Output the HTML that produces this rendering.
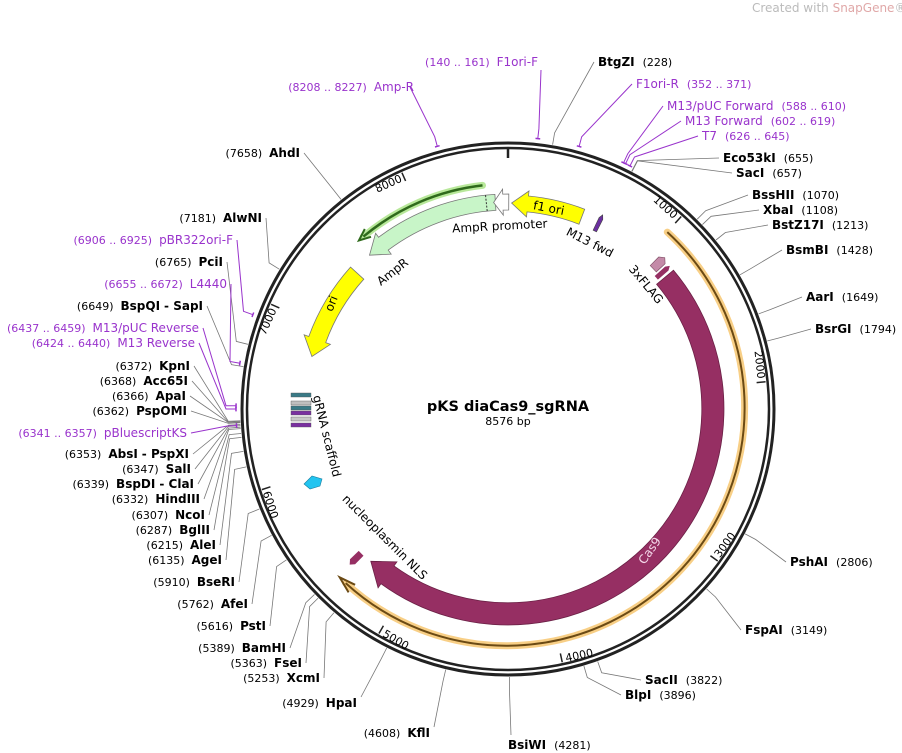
<!DOCTYPE html>
<html><head><meta charset="utf-8"><style>
html,body{margin:0;padding:0;background:#fff;}
svg{display:block;font-family:"DejaVu Sans","Liberation Sans",sans-serif;}
.n{font-weight:bold;font-size:12px;fill:#000}
.p{font-size:11px;fill:#000}
.pu{font-size:12px;fill:#9933cc}
.pp{font-size:11px;fill:#9933cc}
.f{font-size:12px;fill:#000}
</style></head><body>
<svg id="s" width="902" height="753" viewBox="0 0 902 753" xmlns="http://www.w3.org/2000/svg">
<text x="752" y="12" font-size="12" fill="#bbbbbb">Created with <tspan fill="#e0a8a8">SnapGene</tspan>®</text>
<g id="geo"></g>
<g id="lbl">
<text x="598" y="66"><tspan class="n">BtgZI</tspan><tspan class="p" dx="8">(228)</tspan></text>
<text x="723" y="162"><tspan class="n">Eco53kI</tspan><tspan class="p" dx="8">(655)</tspan></text>
<text x="736" y="177"><tspan class="n">SacI</tspan><tspan class="p" dx="8">(657)</tspan></text>
<text x="752" y="199"><tspan class="n">BssHII</tspan><tspan class="p" dx="8">(1070)</tspan></text>
<text x="763" y="214"><tspan class="n">XbaI</tspan><tspan class="p" dx="8">(1108)</tspan></text>
<text x="772" y="229"><tspan class="n">BstZ17I</tspan><tspan class="p" dx="8">(1213)</tspan></text>
<text x="786" y="254"><tspan class="n">BsmBI</tspan><tspan class="p" dx="8">(1428)</tspan></text>
<text x="806" y="301"><tspan class="n">AarI</tspan><tspan class="p" dx="8">(1649)</tspan></text>
<text x="815" y="333"><tspan class="n">BsrGI</tspan><tspan class="p" dx="8">(1794)</tspan></text>
<text x="790" y="566"><tspan class="n">PshAI</tspan><tspan class="p" dx="8">(2806)</tspan></text>
<text x="745" y="634"><tspan class="n">FspAI</tspan><tspan class="p" dx="8">(3149)</tspan></text>
<text x="645" y="684"><tspan class="n">SacII</tspan><tspan class="p" dx="8">(3822)</tspan></text>
<text x="625" y="699"><tspan class="n">BlpI</tspan><tspan class="p" dx="8">(3896)</tspan></text>
<text x="508" y="749"><tspan class="n">BsiWI</tspan><tspan class="p" dx="8">(4281)</tspan></text>
<text x="636" y="88"><tspan class="pu">F1ori-R</tspan><tspan class="pp" dx="8">(352 .. 371)</tspan></text>
<text x="667" y="110"><tspan class="pu">M13/pUC Forward</tspan><tspan class="pp" dx="8">(588 .. 610)</tspan></text>
<text x="685" y="125"><tspan class="pu">M13 Forward</tspan><tspan class="pp" dx="8">(602 .. 619)</tspan></text>
<text x="702" y="140"><tspan class="pu">T7</tspan><tspan class="pp" dx="8">(626 .. 645)</tspan></text>
<text x="538" y="66" text-anchor="end"><tspan class="pp">(140 .. 161)</tspan><tspan class="pu" dx="7">F1ori-F</tspan></text>
<text x="414" y="91" text-anchor="end"><tspan class="pp">(8208 .. 8227)</tspan><tspan class="pu" dx="7">Amp-R</tspan></text>
<text x="300" y="157" text-anchor="end"><tspan class="p">(7658)</tspan><tspan class="n" dx="7">AhdI</tspan></text>
<text x="262" y="222" text-anchor="end"><tspan class="p">(7181)</tspan><tspan class="n" dx="7">AlwNI</tspan></text>
<text x="233" y="244" text-anchor="end"><tspan class="pp">(6906 .. 6925)</tspan><tspan class="pu" dx="7">pBR322ori-F</tspan></text>
<text x="223" y="266" text-anchor="end"><tspan class="p">(6765)</tspan><tspan class="n" dx="7">PciI</tspan></text>
<text x="227" y="288" text-anchor="end"><tspan class="pp">(6655 .. 6672)</tspan><tspan class="pu" dx="7">L4440</tspan></text>
<text x="203" y="310" text-anchor="end"><tspan class="p">(6649)</tspan><tspan class="n" dx="7">BspQI</tspan><tspan class="n" dx="4">- SapI</tspan></text>
<text x="199" y="332" text-anchor="end"><tspan class="pp">(6437 .. 6459)</tspan><tspan class="pu" dx="7">M13/pUC Reverse</tspan></text>
<text x="195" y="347" text-anchor="end"><tspan class="pp">(6424 .. 6440)</tspan><tspan class="pu" dx="7">M13 Reverse</tspan></text>
<text x="190" y="370" text-anchor="end"><tspan class="p">(6372)</tspan><tspan class="n" dx="7">KpnI</tspan></text>
<text x="188" y="385" text-anchor="end"><tspan class="p">(6368)</tspan><tspan class="n" dx="7">Acc65I</tspan></text>
<text x="186" y="400" text-anchor="end"><tspan class="p">(6366)</tspan><tspan class="n" dx="7">ApaI</tspan></text>
<text x="187" y="415" text-anchor="end"><tspan class="p">(6362)</tspan><tspan class="n" dx="7">PspOMI</tspan></text>
<text x="187" y="437" text-anchor="end"><tspan class="pp">(6341 .. 6357)</tspan><tspan class="pu" dx="7">pBluescriptKS</tspan></text>
<text x="189" y="458" text-anchor="end"><tspan class="p">(6353)</tspan><tspan class="n" dx="7">AbsI</tspan><tspan class="n" dx="4">- PspXI</tspan></text>
<text x="191" y="473" text-anchor="end"><tspan class="p">(6347)</tspan><tspan class="n" dx="7">SalI</tspan></text>
<text x="194" y="488" text-anchor="end"><tspan class="p">(6339)</tspan><tspan class="n" dx="7">BspDI</tspan><tspan class="n" dx="4">- ClaI</tspan></text>
<text x="200" y="503" text-anchor="end"><tspan class="p">(6332)</tspan><tspan class="n" dx="7">HindIII</tspan></text>
<text x="205" y="519" text-anchor="end"><tspan class="p">(6307)</tspan><tspan class="n" dx="7">NcoI</tspan></text>
<text x="210" y="534" text-anchor="end"><tspan class="p">(6287)</tspan><tspan class="n" dx="7">BglII</tspan></text>
<text x="216" y="549" text-anchor="end"><tspan class="p">(6215)</tspan><tspan class="n" dx="7">AleI</tspan></text>
<text x="222" y="564" text-anchor="end"><tspan class="p">(6135)</tspan><tspan class="n" dx="7">AgeI</tspan></text>
<text x="235" y="586" text-anchor="end"><tspan class="p">(5910)</tspan><tspan class="n" dx="7">BseRI</tspan></text>
<text x="248" y="608" text-anchor="end"><tspan class="p">(5762)</tspan><tspan class="n" dx="7">AfeI</tspan></text>
<text x="266" y="630" text-anchor="end"><tspan class="p">(5616)</tspan><tspan class="n" dx="7">PstI</tspan></text>
<text x="286" y="652" text-anchor="end"><tspan class="p">(5389)</tspan><tspan class="n" dx="7">BamHI</tspan></text>
<text x="302" y="667" text-anchor="end"><tspan class="p">(5363)</tspan><tspan class="n" dx="7">FseI</tspan></text>
<text x="320" y="682" text-anchor="end"><tspan class="p">(5253)</tspan><tspan class="n" dx="7">XcmI</tspan></text>
<text x="357" y="707" text-anchor="end"><tspan class="p">(4929)</tspan><tspan class="n" dx="7">HpaI</tspan></text>
<text x="430" y="737" text-anchor="end"><tspan class="p">(4608)</tspan><tspan class="n" dx="7">KflI</tspan></text>
<text x="508" y="411" text-anchor="middle" font-size="14.5" font-weight="bold">pKS diaCas9_sgRNA</text>
<text x="508" y="425" text-anchor="middle" font-size="11">8576 bp</text>
<text class="f" transform="translate(500,230) rotate(-3)" text-anchor="middle">AmpR promoter</text>
<text class="f" transform="translate(395,275) rotate(-38)" text-anchor="middle">AmpR</text>
<text class="f" transform="translate(335,305) rotate(-68)" text-anchor="middle">ori</text>
<text class="f" transform="translate(548,212) rotate(11)" text-anchor="middle">f1 ori</text>
<text class="f" transform="translate(588,246) rotate(27)" text-anchor="middle">M13 fwd</text>
<text class="f" transform="translate(643,287) rotate(50)" text-anchor="middle">3xFLAG</text>
<text class="f" transform="translate(323,437) rotate(76)" text-anchor="middle">gRNA scaffold</text>
<text class="f" transform="translate(382,540) rotate(45)" text-anchor="middle">nucleoplasmin NLS</text>
<text transform="translate(653,553) rotate(-55)" text-anchor="middle" font-size="12" fill="#f4d8ea">Cas9</text>
<text font-size="11" transform="translate(663,210) rotate(42)" text-anchor="middle">1000</text>
<text font-size="11" transform="translate(756,365) rotate(84)" text-anchor="middle">2000</text>
<text font-size="11" transform="translate(728,547) rotate(-54)" text-anchor="middle">3000</text>
<text font-size="11" transform="translate(580,659) rotate(-12)" text-anchor="middle">4000</text>
<text font-size="11" transform="translate(394,643) rotate(30)" text-anchor="middle">5000</text>
<text font-size="11" transform="translate(267,506) rotate(72)" text-anchor="middle">6000</text>
<text font-size="11" transform="translate(271,323) rotate(-66)" text-anchor="middle">7000</text>
<text font-size="11" transform="translate(390,187) rotate(-24)" text-anchor="middle">8000</text>
</g>
</svg>
<script>
(function(){
var cx=508,cy=409,N=8576,g=document.getElementById('geo');
function P(deg,r){var a=deg*Math.PI/180;return [cx+r*Math.sin(a),cy-r*Math.cos(a)];}
function B(bp){return bp/N*360;}
function el(t,at){var e=document.createElementNS('http://www.w3.org/2000/svg',t);for(var k in at)e.setAttribute(k,at[k]);g.appendChild(e);return e;}
function f(p){return p[0].toFixed(1)+','+p[1].toFixed(1);}
function arcPath(a1,a2,r){var s=P(a1,r),e=P(a2,r);var d=Math.abs(a2-a1);var sw=a2>a1?1:0;return 'M'+f(s)+' A'+r+','+r+' 0 '+(d>180?1:0)+' '+sw+' '+f(e);}
function arrow(a1,a2,rc,w,hw,hl,fill,stroke){
 var dir=a2>a1?1:-1;var ab=a2-dir*hl;
 var ri=rc-w/2,ro=rc+w/2;
 var d='M'+f(P(a1,ro))+' A'+ro+','+ro+' 0 '+(Math.abs(ab-a1)>180?1:0)+' '+(dir>0?1:0)+' '+f(P(ab,ro));
 d+=' L'+f(P(ab,rc+hw/2))+' L'+f(P(a2,rc))+' L'+f(P(ab,rc-hw/2))+' L'+f(P(ab,ri));
 d+=' A'+ri+','+ri+' 0 '+(Math.abs(ab-a1)>180?1:0)+' '+(dir>0?0:1)+' '+f(P(a1,ri))+' Z';
 el('path',{d:d,fill:fill,stroke:stroke||'none','stroke-width':0.8});
}
function radial(a,r1,r2,w,fill,stroke){var da=w/2/((r1+r2)/2)*180/Math.PI;
 el('polygon',{points:[P(a-da,r1),P(a+da,r1),P(a+da,r2),P(a,r2+4),P(a-da,r2)].map(f).join(' '),fill:fill,stroke:stroke||'none','stroke-width':0.6});}
el('circle',{cx:cx,cy:cy,r:266,fill:'none',stroke:'#222','stroke-width':3});
el('circle',{cx:cx,cy:cy,r:261,fill:'none',stroke:'#222','stroke-width':2.5});
var t0=P(0,251),t1=P(0,262);el('line',{x1:t0[0],y1:t0[1],x2:t1[0],y2:t1[1],stroke:'#222','stroke-width':2.5});
for(var k=1;k<=8;k++){var a=B(k*1000),p=P(a,250),q=P(a,259);el('line',{x1:p[0],y1:p[1],x2:q[0],y2:q[1],stroke:'#222','stroke-width':1.5});}
var R=[[228,594,62],[655,719,158],[657,732,173],[1070,748,195],[1108,759,210],[1213,768,225],[1428,782,250],[1649,802,297],[1794,811,329],[2806,786,562],[3149,741,630],[3822,641,680],[3896,621,695],[4281,511,735],
[7658,304,153],[7181,266,218],[6765,227,262],[6649,207,306],[6372,194,366],[6368,192,381],[6366,190,396],[6362,191,411],[6353,193,454],[6347,195,469],[6339,198,484],[6332,204,499],[6307,209,515],[6287,214,530],[6215,220,545],[6135,226,560],[5910,239,582],[5762,252,604],[5616,270,626],[5389,290,648],[5363,306,663],[5253,324,678],[4929,361,697],[4608,434,727]];
R.forEach(function(e){var a=B(e[0]),p=P(a,268),q=P(a,280);el('polyline',{points:f(p)+' '+f(q)+' '+e[1]+','+e[2],fill:'none',stroke:'#777','stroke-width':0.8});});
var Pr=[[361,632,84],[599,663,106],[610,681,121],[635,698,136],[150,541,70],[8217,410,87],[6915,237,240],[6663,231,284],[6448,203,328],[6432,199,343],[6349,191,433]];
Pr.forEach(function(e){var a=B(e[0]),p=P(a,272),q=P(a,282);
 el('path',{d:arcPath(a-0.5,a+0.5,272),fill:'none',stroke:'#9933cc','stroke-width':1.5});
 el('polyline',{points:f(p)+' '+f(q)+' '+e[1]+','+e[2],fill:'none',stroke:'#9933cc','stroke-width':1});});
el('path',{d:arcPath(42,223,238),fill:'none',stroke:'#f8cf86','stroke-width':7,'stroke-linecap':'round'});
el('path',{d:arcPath(42,223,238),fill:'none',stroke:'#6b4a14','stroke-width':2});
var h=P(225,238),h1=P(221,243),h2=P(221,233);el('polyline',{points:f(h1)+' '+f(h)+' '+f(h2),fill:'none',stroke:'#6b4a14','stroke-width':2});
el('path',{d:arcPath(353.5,320,225),fill:'none',stroke:'#b8e89a','stroke-width':7,'stroke-linecap':'round'});
el('path',{d:arcPath(353.5,320,225),fill:'none',stroke:'#2f6a1c','stroke-width':2.5});
h=P(318.5,225);h1=P(321.5,230);h2=P(321.5,220);el('polyline',{points:f(h1)+' '+f(h)+' '+f(h2),fill:'none',stroke:'#2f6a1c','stroke-width':2});
arrow(50,222,205,22,32,6,'#962f63','#6a2045');
radial(46,202,214,9,'#c48aa8','#7a4a60');
radial(48.5,198,212,5,'#962f63');
radial(225.5,206,218,7,'#962f63');
arrow(356.5,318,207,16,26,5,'#c8f5c8','#777');
var d1=P(354,199),d2=P(354,215);el('line',{x1:d1[0],y1:d1[1],x2:d2[0],y2:d2[1],stroke:'#333','stroke-width':1,'stroke-dasharray':'2,1.5'});
arrow(0.2,-4,207,16,26,2.6,'#fff','#777');
arrow(21,1,206,16,26,4.5,'#ffff00','#777');
arrow(312,285,203,18,28,5,'#ffff00','#777');
radial(26,198,212,4,'#6b2fa0','#444');
[[393,'#3a7a86'],[401,'#bfbfbf'],[406,'#3a7a86'],[411,'#7a30a0'],[417,'#c8c8c8'],[423,'#7a30a0']].forEach(function(r){el('rect',{x:291,y:r[0],width:20,height:4,fill:r[1],stroke:'#555','stroke-width':0.4});});
el('path',{d:'M304,484 L312,476 L322,479 L320,486 L310,489 Z',fill:'#22c4f0',stroke:'#1a7fa0','stroke-width':0.6});
})();
</script>
</body></html>
